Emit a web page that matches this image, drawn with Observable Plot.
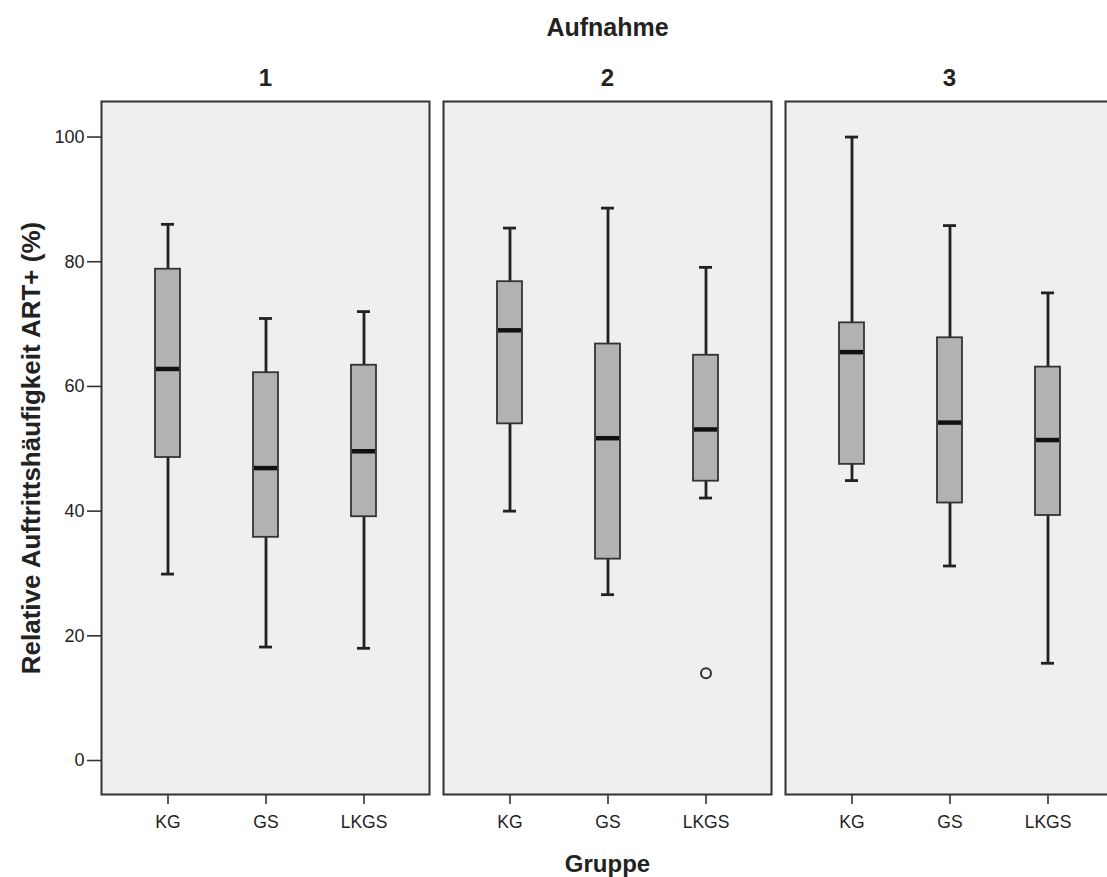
<!DOCTYPE html>
<html>
<head>
<meta charset="utf-8">
<script src="https://cdn.jsdelivr.net/npm/d3@7"></script>
<script src="https://cdn.jsdelivr.net/npm/@observablehq/plot@0.6"></script>
<style>
  html, body { margin: 0; padding: 0; background: #fff; overflow: hidden; }
  #chart svg { display: block; max-width: none !important; }
  g[aria-label="x-axis label"] text { font-weight: bold; font-size: 24px; }
  g[aria-label="y-axis label"] text { font-weight: bold; font-size: 26px; }
  g[aria-label="fx-axis label"] text { font-weight: bold; font-size: 25px; }
  g[aria-label="fx-axis tick label"] text { font-weight: bold; }
</style>
</head>
<body>
<div id="chart"></div>
<script>
// Facets (Aufnahme) and groups (Gruppe)
const aufnahme = ["1", "2", "3"];
const gruppen = ["KG", "GS", "LKGS"];

// Box statistics, ordered Aufnahme 1 (KG, GS, LKGS), Aufnahme 2 (...), Aufnahme 3 (...)
const whiskerLow  = [29.9, 18.2, 18.0,  40.0, 26.6, 42.1,  44.9, 31.2, 15.6];
const quartile1   = [48.6, 35.8, 39.1,  54.0, 32.3, 44.8,  47.5, 41.3, 39.3];
const medians     = [62.8, 46.9, 49.6,  69.0, 51.7, 53.1,  65.5, 54.2, 51.4];
const quartile3   = [78.8, 62.2, 63.4,  76.8, 66.8, 65.0,  70.2, 67.8, 63.1];
const whiskerHigh = [86.0, 70.9, 72.0,  85.4, 88.6, 79.1, 100.0, 85.8, 75.0];

// Outliers
const outlierAufnahme = ["2"];
const outlierGruppe = ["LKGS"];
const outlierValue = [14.0];

const yTicks = [0, 20, 40, 60, 80, 100];

const boxes = [];
aufnahme.forEach((a, i) => gruppen.forEach((g, j) => {
  const k = i * gruppen.length + j;
  boxes.push({aufnahme: a, gruppe: g, lo: whiskerLow[k], q1: quartile1[k], med: medians[k], q3: quartile3[k], hi: whiskerHigh[k]});
}));
const outliers = outlierValue.map((v, i) => ({aufnahme: outlierAufnahme[i], gruppe: outlierGruppe[i], value: v}));

const chart = Plot.plot({
  width: 1116,
  height: 877,
  marginTop: 101,
  marginBottom: 83,
  marginLeft: 100,
  marginRight: 2,
  style: {fontFamily: "'Liberation Sans', Arial, sans-serif", fontSize: "16px", color: "#222", background: "#fff"},
  fx: {domain: aufnahme, paddingInner: 0.041, paddingOuter: 0, label: null},
  x: {domain: gruppen, paddingInner: 0.745, paddingOuter: 0.53, label: null},
  y: {domain: [-5.45, 105.7], label: null},
  marks: [
    Plot.frame({fill: "#efefef", stroke: "#333", strokeWidth: 2}),
    Plot.axisY({ticks: yTicks, tickSize: 14, tickPadding: 3, fontSize: 18, stroke: "#333", strokeWidth: 1.6,
      label: "Relative Auftrittshäufigkeit ART+ (%)", labelArrow: "none", labelAnchor: "center", labelOffset: 80}),
    Plot.axisX({tickSize: 10, tickPadding: 11, fontSize: 17.5, stroke: "#333", strokeWidth: 1.6,
      label: "Gruppe", labelArrow: "none", labelAnchor: "center", labelOffset: 77}),
    Plot.axisFx({anchor: "top", tickSize: 0, tickPadding: 16, fontSize: 24, label: "Aufnahme", labelAnchor: "center", labelOffset: 83}),
    Plot.ruleX(boxes, {fx: "aufnahme", x: "gruppe", y1: "lo", y2: "hi", stroke: "#222", strokeWidth: 2.8}),
    Plot.tickY(boxes, {fx: "aufnahme", x: "gruppe", y: "lo", stroke: "#222", strokeWidth: 2.8, insetLeft: 6, insetRight: 6}),
    Plot.tickY(boxes, {fx: "aufnahme", x: "gruppe", y: "hi", stroke: "#222", strokeWidth: 2.8, insetLeft: 6, insetRight: 6}),
    Plot.barY(boxes, {fx: "aufnahme", x: "gruppe", y1: "q1", y2: "q3", fill: "#b2b2b2", stroke: "#333", strokeWidth: 1.8}),
    Plot.tickY(boxes, {fx: "aufnahme", x: "gruppe", y: "med", stroke: "#111", strokeWidth: 4.5, insetLeft: 1, insetRight: 1}),
    Plot.dot(outliers, {fx: "aufnahme", x: "gruppe", y: "value", r: 5, stroke: "#333", strokeWidth: 2, fill: "none"})
  ]
});
document.getElementById("chart").appendChild(chart);
</script>
</body>
</html>
